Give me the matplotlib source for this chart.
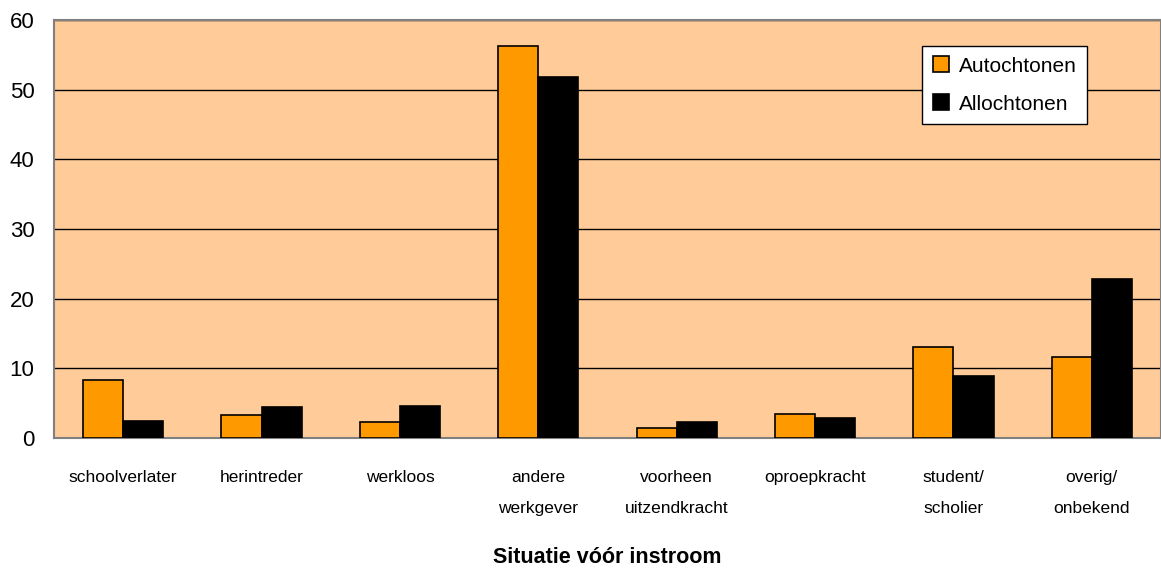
import numpy as np
import matplotlib.pyplot as plt

categories = ['schoolverlater', 'herintreder', 'werkloos', 'andere\nwerkgever',
              'voorheen\nuitzendkracht', 'oproepkracht', 'student/\nscholier',
              'overig/\nonbekend']
autochtonen = [8.3, 3.3, 2.3, 56.3, 1.4, 3.4, 13.1, 11.6]
allochtonen = [2.5, 4.5, 4.6, 51.8, 2.3, 2.9, 8.9, 22.8]

plt.rcParams['font.family'] = ['Liberation Sans', 'DejaVu Sans']

fig = plt.figure(figsize=(11.61, 5.74), dpi=100)
ax = fig.add_axes([54 / 1161, 1 - 438 / 574, 1 - 54 / 1161, 418 / 574])
ax.set_facecolor('#FFCC99')

x = np.arange(len(categories))
w = 0.29
ax.bar(x - w / 2, autochtonen, w, color='#FF9900', edgecolor='black',
       linewidth=1.2, label='Autochtonen', zorder=3)
ax.bar(x + w / 2, allochtonen, w, color='black', edgecolor='black',
       linewidth=1.2, label='Allochtonen', zorder=3)

ax.set_xlim(-0.5, len(categories) - 0.5)
ax.set_ylim(0, 60)
ax.set_yticks(range(0, 61, 10))
ax.yaxis.grid(True, color='black', linewidth=1, zorder=1)
ax.tick_params(axis='y', length=0, pad=14, labelsize=16)
ax.tick_params(axis='x', length=0, pad=23)
ax.set_xticks(x)
ax.set_xticklabels(categories, linespacing=2.35, fontsize=12.5)
for s in ax.spines.values():
    s.set_color('#808080')
    s.set_linewidth(1.5)

ax.set_xlabel('Situatie vóór instroom', fontsize=15.5, fontweight='bold',
              labelpad=22)

leg = ax.legend(loc='upper right', bbox_to_anchor=((1087 - 54) / 1107, (438 - 46) / 418),
                bbox_transform=ax.transAxes, fontsize=15, fancybox=False,
                framealpha=1, edgecolor='black', handlelength=0.8,
                handleheight=0.8, handletextpad=0.45, labelspacing=0.9,
                borderpad=0.5, borderaxespad=0)
leg.get_frame().set_linewidth(1)

fig.savefig('out.png', dpi=100)
